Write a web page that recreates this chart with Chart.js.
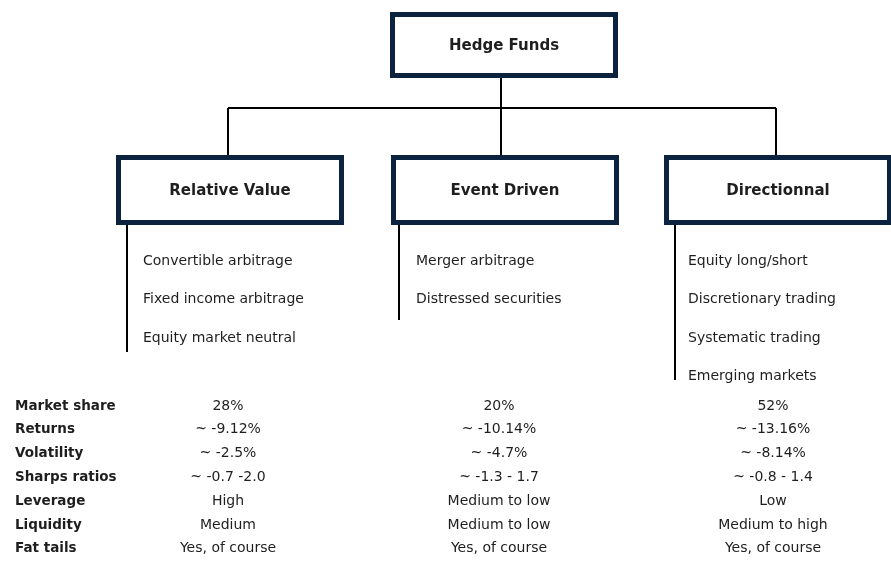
<!DOCTYPE html>
<html>
<head>
<meta charset="utf-8">
<script src="https://cdn.jsdelivr.net/npm/chart.js@4.4.0/dist/chart.umd.min.js"></script>
<style>
  html, body { margin: 0; padding: 0; background: #fff; }
  canvas { display: block; }
</style>
</head>
<body>
<canvas id="chart" width="891" height="574"></canvas>
<script>
// data
const rootLabel = 'Hedge Funds';
const categories = ['Relative Value', 'Event Driven', 'Directionnal'];
const relativeValueStrategies = ['Convertible arbitrage', 'Fixed income arbitrage', 'Equity market neutral'];
const eventDrivenStrategies = ['Merger arbitrage', 'Distressed securities'];
const directionalStrategies = ['Equity long/short', 'Discretionary trading', 'Systematic trading', 'Emerging markets'];
const metrics = ['Market share', 'Returns', 'Volatility', 'Sharps ratios', 'Leverage', 'Liquidity', 'Fat tails'];
const relativeValueStats = ['28%', '~ -9.12%', '~ -2.5%', '~ -0.7 -2.0', 'High', 'Medium', 'Yes, of course'];
const eventDrivenStats = ['20%', '~ -10.14%', '~ -4.7%', '~ -1.3 - 1.7', 'Medium to low', 'Medium to low', 'Yes, of course'];
const directionalStats = ['52%', '~ -13.16%', '~ -8.14%', '~ -0.8 - 1.4', 'Low', 'Medium to high', 'Yes, of course'];

const strategies = [relativeValueStrategies, eventDrivenStrategies, directionalStrategies];
const stats = [relativeValueStats, eventDrivenStats, directionalStats];

// layout, in the 891x574 frame
const W = 891, H = 574;
const rootBox = {x: 390, y: 12, w: 228, h: 66};
const rootStemX = 501;
const busY = 108;
const stemX = [228, 501, 776];
const boxLeft = [116, 391, 664];
const boxTop = 155, boxW = 228, boxH = 70;
const railX = [127, 399, 675];
const railEnd = [352, 320, 380];
const itemX = [143, 416, 688];
const itemY0 = 261, itemStep = 38.5;
const rowY0 = 406, rowStep = 23.8;
const labelX = 15;
const valueX = [228, 499, 773];

const navy = '#0c2340';
const ink = '#1e1e1e';
const fontFamily = '"DejaVu Sans", sans-serif';

// connector segments (null breaks the line)
const connectors = [
  {x: rootStemX, y: rootBox.y + rootBox.h}, {x: rootStemX, y: busY}, {x: null, y: null},
  {x: stemX[0], y: busY}, {x: stemX[2], y: busY}, {x: null, y: null}
];
stemX.forEach(sx => {
  connectors.push({x: sx, y: busY}, {x: sx, y: boxTop}, {x: null, y: null});
});
const rails = [];
railX.forEach((rx, i) => {
  rails.push({x: rx, y: boxTop + boxH}, {x: rx, y: railEnd[i]}, {x: null, y: null});
});

const diagram = {
  id: 'diagram',
  afterDatasetsDraw(chart) {
    const {ctx, scales: {x, y}} = chart;
    const px = v => x.getPixelForValue(v);
    const py = v => y.getPixelForValue(v);

    function box(b, label) {
      const l = px(b.x), t = py(b.y), r = px(b.x + b.w), bt = py(b.y + b.h);
      ctx.save();
      ctx.fillStyle = '#fff';
      ctx.fillRect(l, t, r - l, bt - t);
      ctx.strokeStyle = navy;
      ctx.lineWidth = 5;
      ctx.strokeRect(l + 2.5, t + 2.5, r - l - 5, bt - t - 5);
      ctx.fillStyle = ink;
      ctx.font = 'bold 15px ' + fontFamily;
      ctx.textAlign = 'center';
      ctx.textBaseline = 'middle';
      ctx.fillText(label, (l + r) / 2, (t + bt) / 2 + 1);
      ctx.restore();
    }

    box(rootBox, rootLabel);
    categories.forEach((c, i) => box({x: boxLeft[i], y: boxTop, w: boxW, h: boxH}, c));

    ctx.save();
    ctx.fillStyle = ink;
    ctx.textBaseline = 'middle';
    ctx.font = '14px ' + fontFamily;
    ctx.textAlign = 'left';
    strategies.forEach((list, i) => {
      list.forEach((s, j) => ctx.fillText(s, px(itemX[i]), py(itemY0 + j * itemStep)));
    });

    metrics.forEach((m, r) => {
      const yy = py(rowY0 + r * rowStep);
      ctx.font = 'bold 13.5px ' + fontFamily;
      ctx.textAlign = 'left';
      ctx.fillText(m, px(labelX), yy);
      ctx.font = '14px ' + fontFamily;
      ctx.textAlign = 'center';
      stats.forEach((col, i) => ctx.fillText(col[r], px(valueX[i]), yy));
    });
    ctx.restore();
  }
};

new Chart(document.getElementById('chart'), {
  type: 'scatter',
  data: {
    datasets: [
      {data: connectors, showLine: true, spanGaps: false, borderColor: '#000', borderWidth: 2, pointRadius: 0},
      {data: rails, showLine: true, spanGaps: false, borderColor: '#000', borderWidth: 2, pointRadius: 0}
    ]
  },
  options: {
    responsive: false,
    animation: false,
    layout: {padding: 0},
    plugins: {legend: {display: false}, tooltip: {enabled: false}},
    scales: {
      x: {type: 'linear', min: 0, max: W, display: false},
      y: {type: 'linear', min: 0, max: H, reverse: true, display: false}
    }
  },
  plugins: [diagram]
});
</script>
</body>
</html>
